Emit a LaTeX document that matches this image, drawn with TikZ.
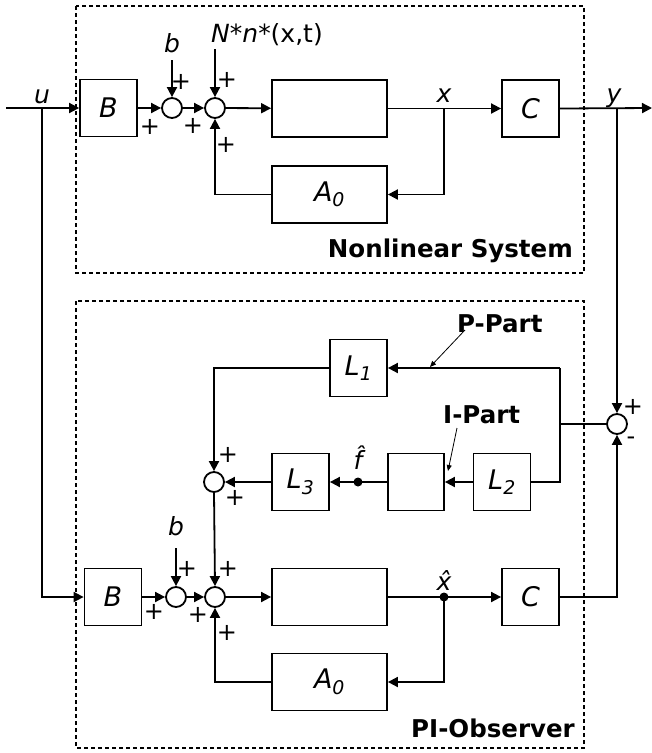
\documentclass[tikz,border=0pt]{standalone}
\usepackage{fontspec}
\setmainfont{DejaVu Sans}
\usetikzlibrary{arrows.meta}
\tikzset{
  wire/.style={line width=1.8pt},
  arr/.style={wire,-{Triangle[length=10pt,width=10pt]}},
  thinarr/.style={line width=0.8pt,-{Triangle[length=6pt,width=5pt]}},
  blk/.style={draw,line width=1.8pt,minimum width=57pt,minimum height=57pt,inner sep=0pt,font=\fontsize{27}{30}\selectfont\itshape},
  wideblk/.style={blk,minimum width=115pt},
  sumn/.style={circle,draw,line width=1.8pt,minimum size=20pt,inner sep=0pt},
  sgn/.style={inner sep=0pt,font=\fontsize{24}{26}\selectfont},
  lbl/.style={inner sep=0pt,font=\fontsize{25}{28}\selectfont\itshape},
  ttl/.style={inner sep=0pt,font=\fontsize{24.5}{28}\selectfont\bfseries},
  frame/.style={draw,line width=1.6pt,dash pattern=on 4pt off 3pt},
  dotn/.style={circle,fill,inner sep=0pt,minimum size=9pt}
}
\begin{document}
\begin{tikzpicture}[x=1pt,y=-1pt]
\useasboundingbox (0,0) rectangle (652,753);
% frames
\draw[frame] (76,6) rectangle (584,273);
\draw[frame] (76,301) rectangle (584,748);
% ---------- nonlinear system ----------
\node[blk] (B1) at (108.5,108) {B};
\node[sumn] (S1) at (172,108) {};
\node[sumn] (S2) at (215,108) {};
\node[wideblk] (I1) at (329.5,108.5) {};
\node[wideblk] (A1) at (329.5,194.5) {A\textsubscript{0}};
\node[blk] (C1) at (530.5,108.5) {C};
\coordinate (uin) at (6,108);
\coordinate (uj) at (42,108);
\coordinate (xj) at (444,108);
\coordinate (yj) at (617,108);
\coordinate (yout) at (652,108);
\coordinate (bt1) at (172,60);
\coordinate (nt1) at (215,49);
\node[lbl,anchor=base] (ul) at (42,103) {u};
\node[lbl,anchor=base] (xl) at (444,102) {x};
\node[lbl,anchor=base] (yl) at (614,102) {y};
\node[lbl,anchor=base] (bl1) at (172,52) {b};
\node[lbl,anchor=base west] (nl) at (211,42) {N*n*\upshape(x,t)};
\draw[arr] (uin) -- (B1.west);
\draw[arr] (B1) -- (S1);
\draw[arr] (S1) -- (S2);
\draw[arr] (S2) -- (I1);
\draw[arr] (bt1) -- (S1.north);
\draw[arr] (nt1) -- (S2.north);
\draw[arr] (I1.east) -- (C1.west);
\draw[arr] (xj) |- (A1.east);
\draw[arr] (A1.west) -| (S2.south);
\draw[arr] (C1.east) -- (yout);
\node[sgn] (p1) at (181,82) {+};
\node[sgn] (p2) at (150,127) {+};
\node[sgn] (p3) at (227,80) {+};
\node[sgn] (p4) at (193,126) {+};
\node[sgn] (p5) at (226,145) {+};
\node[ttl,anchor=base east] (t1) at (573,257) {Nonlinear System};
% ---------- PI observer ----------
\node[blk] (L1) at (358.5,368) {L\textsubscript{1}};
\node[sumn] (S3) at (617,424) {};
\node[blk] (L2) at (502,482) {L\textsubscript{2}};
\node[blk,minimum width=56pt] (I2) at (416,482) {};
\node[blk] (L3) at (300.5,482) {L\textsubscript{3}};
\node[sumn] (S4) at (214,482) {};
\node[blk] (B2) at (113,597) {B};
\node[sumn] (S6) at (176,597) {};
\node[sumn] (S5) at (215,597) {};
\node[wideblk] (I3) at (329.5,597) {};
\node[wideblk] (A2) at (329.5,682) {A\textsubscript{0}};
\node[blk] (C2) at (530.5,597) {C};
\node[dotn] (fh) at (358,482) {};
\node[dotn] (xh) at (444,597) {};
\coordinate (pj1) at (560,368);
\coordinate (pj2) at (560,482);
\coordinate (pj3) at (560,424);
\coordinate (bt2) at (176,548);
\node[lbl,anchor=base] (fl) at (358,469) {\^{f}};
\node[lbl,anchor=base] (xhl) at (444,590) {\^{x}};
\node[lbl,anchor=base] (bl2) at (176,535) {b};
\draw[arr] (uj) |- (B2.west);
\draw[arr] (yj) -- (S3.north);
\draw[wire] (S3.west) -- (pj3);
\draw[arr] (pj1) -- (L1.east);
\draw[wire] (pj1) -- (pj2) -- (L2.east);
\draw[arr] (L2.west) -- (I2.east);
\draw[arr] (I2.west) -- (L3.east);
\draw[arr] (L3.west) -- (S4.east);
\draw[arr] (L1.west) -| (S4.north);
\draw[arr] (S4.south) -- (S5.north);
\draw[arr] (B2) -- (S6);
\draw[arr] (S6) -- (S5);
\draw[arr] (S5) -- (I3);
\draw[arr] (bt2) -- (S6.north);
\draw[arr] (I3.east) -- (C2.west);
\draw[arr] (xh.center) |- (A2.east);
\draw[arr] (A2.west) -| (S5.south);
\draw[arr] (C2.east) -| (S3.south);
\node[sgn] (q1) at (633,407) {+};
\node[sgn] (q2) at (631,441) {-};
\node[sgn] (q3) at (228,455) {+};
\node[sgn] (q4) at (235,498) {+};
\node[sgn] (q5) at (187,569) {+};
\node[sgn] (q6) at (154,612) {+};
\node[sgn] (q7) at (228,569) {+};
\node[sgn] (q8) at (198,615) {+};
\node[sgn] (q9) at (227,633) {+};
\node[ttl,anchor=base west] (pp) at (457,332) {P-Part};
\node[ttl,anchor=base west] (ip) at (443,423) {I-Part};
\coordinate (ppt) at (430,367);
\coordinate (ipt) at (448,471);
\draw[thinarr] (465,330) -- (ppt);
\draw[thinarr] (457,428) -- (ipt);
\node[ttl,anchor=base east] (t2) at (575,737) {PI-Observer};
\end{tikzpicture}
\end{document}
